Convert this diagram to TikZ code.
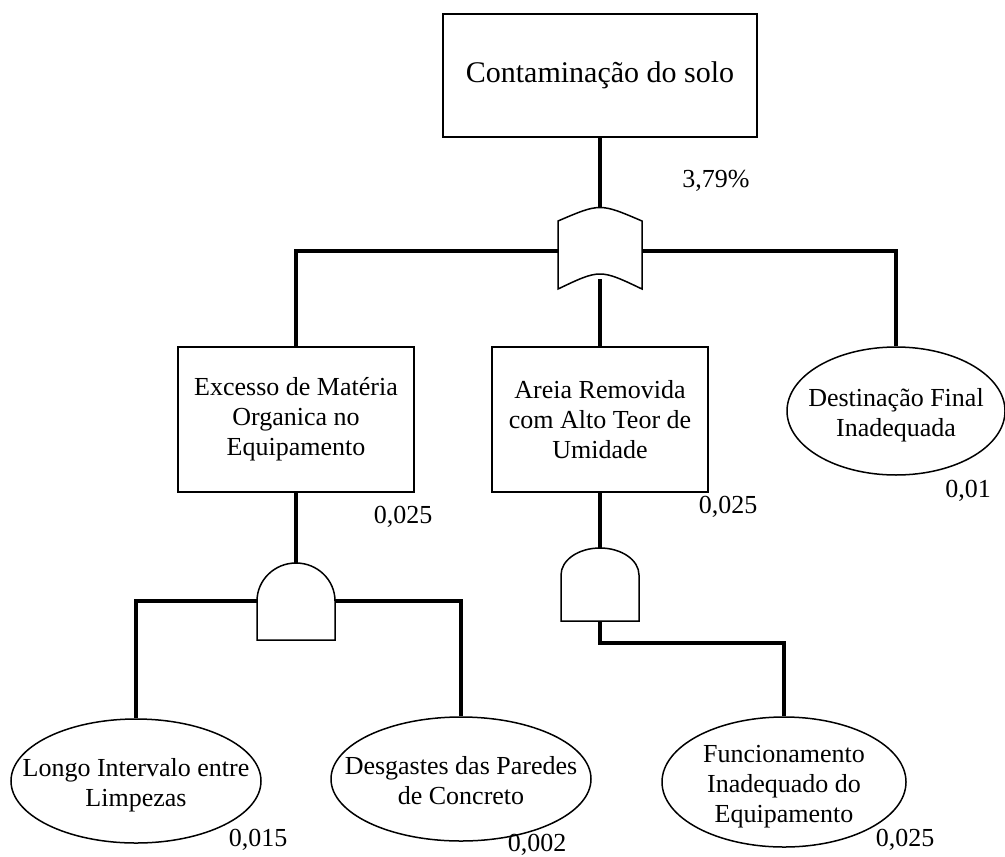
\documentclass[tikz,border=0pt]{standalone}
\usepackage{fontspec}
\setmainfont{Liberation Serif}
\usetikzlibrary{shapes.geometric}
% text of an ellipse event: takes no room, so the ellipse keeps its given size
\newcommand\evtext[1]{\smash{\makebox[0pt]{\raisebox{-5pt}{\begin{tabular}{@{}c@{}}#1\end{tabular}}}}}
\begin{document}
\begin{tikzpicture}[x=0.5pt,y=-0.5pt,
  txt/.style={font=\fontsize{13pt}{15pt}\selectfont, align=center},
  evbox/.style={draw, line width=0.75pt, inner sep=0pt, txt},
  basic/.style={draw, ellipse, line width=0.75pt, inner sep=0pt, txt},
  gateline/.style={draw, line width=0.75pt, fill=white},
  link/.style={line width=2.2pt},
  prob/.style={txt, inner sep=0pt}]
\useasboundingbox (0,0) rectangle (1005,856);

% top event
\node[evbox, minimum width=157pt, minimum height=61.5pt] (top) at (600,75.5)
  {\fontsize{15pt}{18pt}\selectfont Contaminação do solo};
\node[prob] (ptop) at (716,181) {3,79\%};

% intermediate events
\node[evbox, minimum width=118pt, minimum height=72.5pt] (e1) at (296,419.5)
  {Excesso de Matéria\\Organica no\\Equipamento};
\node[evbox, minimum width=108pt, minimum height=72.5pt] (e2) at (600,419.5)
  {Areia Removida\\com Alto Teor de\\Umidade};
\node[prob] (pe1) at (403,517) {0,025};
\node[prob] (pe2) at (728,507) {0,025};

% basic events
\node[basic, minimum width=109pt, minimum height=64pt] (b3) at (896,411)
  {\evtext{Destinação Final\\Inadequada}};
\node[prob] (pb3) at (968,491) {0,01};

\node[basic, minimum width=125pt, minimum height=62pt] (b11) at (136,781)
  {\evtext{Longo Intervalo entre\\Limpezas}};
\node[prob] (pb11) at (258,840) {0,015};

\node[basic, minimum width=130pt, minimum height=62pt] (b12) at (461,779)
  {\evtext{Desgastes das Paredes\\de Concreto}};
\node[prob] (pb12) at (537,845) {0,002};

\node[basic, minimum width=122pt, minimum height=65pt] (b21) at (784,782)
  {\evtext{Funcionamento\\Inadequado do\\Equipamento}};
\node[prob] (pb21) at (905,840) {0,025};

% gate ports
\coordinate (or-in)   at (600,212);
\coordinate (or-out)  at (600,279);
\coordinate (or-l)    at (558,251);
\coordinate (or-r)    at (642,251);
\coordinate (and1-in) at (296,563);
\coordinate (and1-l)  at (257,601);
\coordinate (and1-r)  at (335,601);
\coordinate (and2-in) at (600,548);
\coordinate (and2-out) at (600,621);
\coordinate (j2)      at (600,643);

% connectors
\draw[link] (top.south) -- (or-in);
\draw[link] (or-l) -| (e1.north);
\draw[link] (or-r) -| (b3.north);
\draw[link] (or-out) -- (e2.north);
\draw[link] (e1.south) -- (and1-in);
\draw[link] (and1-l) -| (b11.north);
\draw[link] (and1-r) -| (b12.north);
\draw[link] (e2.south) -- (and2-in);
\draw[link] (and2-out) -- (j2) -| (b21.north);

% OR gate
\draw[gateline] (558,221) .. controls (600,203) .. (642,221) -- (642,289)
  .. controls (600,269) .. (558,289) -- cycle;

% AND gate under the first intermediate event
\draw[gateline] (257,640) -- (257,601) .. controls (257,580) and (274.5,563) .. (296,563)
  .. controls (317.5,563) and (335,580) .. (335,601) -- (335,640) -- cycle;

% AND gate under the second intermediate event
\draw[gateline] (561,621) -- (561,575) .. controls (561,560) and (578.5,548) .. (600,548)
  .. controls (621.5,548) and (639,560) .. (639,575) -- (639,621) -- cycle;
\end{tikzpicture}
\end{document}
